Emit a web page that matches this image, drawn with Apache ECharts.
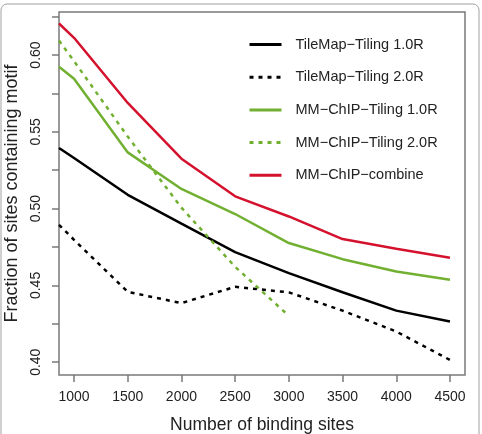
<!DOCTYPE html>
<html>
<head>
<meta charset="utf-8">
<script src="https://cdn.jsdelivr.net/npm/echarts@6/dist/echarts.min.js"></script>
<style>
html,body{margin:0;padding:0;background:#fff;}
#chart{width:482px;height:434px;}
</style>
</head>
<body>
<div id="chart"></div>
<script>
// number of binding sites (first point = left plot edge)
var sites = [860, 1000, 1500, 2000, 2500, 3000, 3500, 4000, 4500];
var tilemap10 = [0.5395, 0.5330, 0.5090, 0.4902, 0.4717, 0.4580, 0.4456, 0.4336, 0.4265];
var tilemap20 = [0.4895, 0.4797, 0.4458, 0.4385, 0.4491, 0.4455, 0.4336, 0.4200, 0.4015];
var mmchip10 = [0.5923, 0.5845, 0.5366, 0.5128, 0.4965, 0.4776, 0.4671, 0.4591, 0.4537];
var mmchip20 = [0.6095, 0.5960, 0.5469, 0.5006, 0.4621, 0.4302];
var mmcombine = [0.6205, 0.6112, 0.5688, 0.5325, 0.5080, 0.4949, 0.4802, 0.4739, 0.4680];
var xTicks = [1000, 1500, 2000, 2500, 3000, 3500, 4000, 4500];
var yTicks = [0.400, 0.425, 0.450, 0.475, 0.500, 0.525, 0.550, 0.575, 0.600, 0.625];
var yLabels = [0.40, 0.45, 0.50, 0.55, 0.60];

var green = '#72b032', red = '#d4122e';
var font = 'Liberation Sans, Arial, Helvetica, sans-serif';

function pairs(ys) {
	var out = [];
	for (var i = 0; i < ys.length; i++) out.push([sites[i], ys[i]]);
	return out;
}
function line(name, ys, color, dashed) {
	return {
		name: name, type: 'line', data: pairs(ys), symbol: 'none',
		lineStyle: { color: color, width: 2.5, type: dashed ? [4, 5] : 'solid' },
		itemStyle: { color: color }
	};
}

var chart = echarts.init(document.getElementById('chart'));
chart.setOption({
	animation: false,
	textStyle: { fontFamily: font },
	grid: { left: 59, right: 17, top: 12, bottom: 59, outerBoundsMode: 'none', containLabel: false,
		show: true, borderColor: '#7a7a7a', borderWidth: 1.5 },
	graphic: [{
		type: 'rect', shape: { x: 1, y: 4, width: 478, height: 445, r: 6 },
		style: { fill: 'none', stroke: '#a0a0a0', lineWidth: 1 }, silent: true
	}],
	legend: {
		orient: 'vertical', left: 248, top: 37, padding: 0, itemWidth: 32, itemHeight: 14, itemGap: 17.7,
		itemStyle: { opacity: 0 },
		lineStyle: { width: 3 },
		textStyle: { fontSize: 14.5, color: '#222', padding: [0, 0, 0, 9] },
		data: ['TileMap\u2212Tiling 1.0R', 'TileMap\u2212Tiling 2.0R', 'MM\u2212ChIP\u2212Tiling 1.0R', 'MM\u2212ChIP\u2212Tiling 2.0R', 'MM\u2212ChIP\u2212combine']
	},
	xAxis: {
		type: 'value', min: 860, max: 4640,
		name: 'Number of binding sites', nameLocation: 'middle', nameGap: 41,
		nameTextStyle: { fontSize: 17.5, color: '#222' },
		axisLine: { show: false },
		axisTick: { show: true, length: 7, customValues: xTicks, lineStyle: { color: '#7a7a7a', width: 1.5 } },
		axisLabel: { customValues: xTicks, fontSize: 14, color: '#222', margin: 15,
			formatter: function (v) { return String(v); } },
		splitLine: { show: false }
	},
	yAxis: {
		type: 'value', min: 0.3917, max: 0.628,
		name: 'Fraction of sites containing motif', nameLocation: 'middle', nameGap: 35,
		nameTextStyle: { fontSize: 18, color: '#222' },
		axisLine: { show: false },
		axisTick: { show: true, length: 7, customValues: yTicks, lineStyle: { color: '#7a7a7a', width: 1.5 } },
		axisLabel: {
			customValues: yLabels, fontSize: 14, color: '#222', rotate: 90, margin: 16,
			formatter: function (v) { return v.toFixed(2); }
		},
		splitLine: { show: false }
	},
	series: [
		line('TileMap\u2212Tiling 1.0R', tilemap10, '#000', false),
		line('TileMap\u2212Tiling 2.0R', tilemap20, '#000', true),
		line('MM\u2212ChIP\u2212Tiling 1.0R', mmchip10, green, false),
		line('MM\u2212ChIP\u2212Tiling 2.0R', mmchip20, green, true),
		line('MM\u2212ChIP\u2212combine', mmcombine, red, false)
	]
});
</script>
</body>
</html>
